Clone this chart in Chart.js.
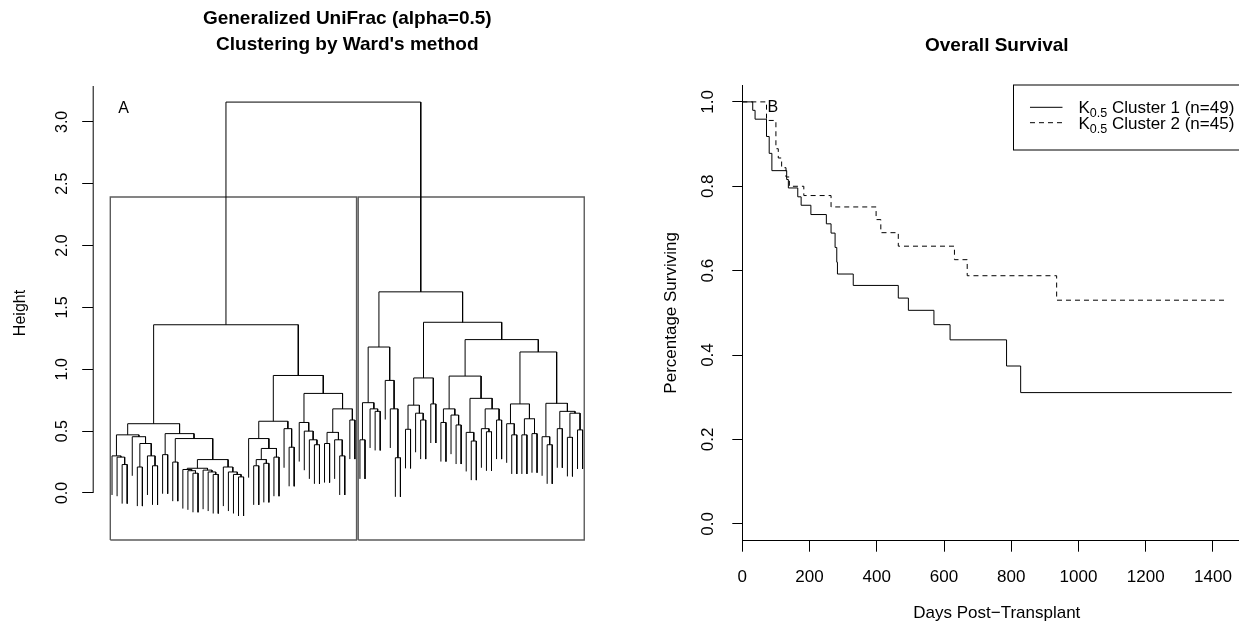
<!DOCTYPE html>
<html>
<head>
<meta charset="utf-8">
<title>UniFrac clusters and survival</title>
<script src="https://cdn.jsdelivr.net/npm/chart.js@4.4.1/dist/chart.umd.min.js"></script>
<style>
  html, body { margin: 0; padding: 0; background: #fff; overflow: hidden; }
  #wrap { position: relative; width: 1239px; height: 626px; overflow: hidden; }
  #dendro { position: absolute; left: 0; top: 0; }
  #survival { position: absolute; left: 620px; top: 0; }
</style>
</head>
<body>
<div id="wrap">
  <canvas id="dendro" width="620" height="626"></canvas>
  <canvas id="survival" width="660" height="626"></canvas>
</div>
<script>
// Ward clustering of generalized UniFrac distances (alpha = 0.5)
// a node is [mergeHeight, left, right]; 0 is a single sample
const cluster1A = [0.56,
  [0.47,
    [0.30, 0, [0.29, 0, [0.23, 0, 0]]],
    [0.455, 0, [0.40, [0.21, 0, 0], [0.30, 0, [0.22, 0, 0]]]]],
  [0.48,
    [0.31, 0, 0],
    [0.44,
      [0.25, 0, 0],
      [0.27,
        [0.20, [0.19, 0, [0.18, 0, [0.16, 0, 0]]], [0.185, 0, [0.17, 0, [0.15, 0, 0]]]],
        [0.21, 0, [0.17, 0, [0.15, 0, [0.13, 0, 0]]]]]]]];
const cluster1B = [0.95,
  [0.58,
    [0.44, 0, [0.36, [0.27, [0.22, 0, 0], [0.24, 0, 0]], [0.29, 0, 0]]],
    [0.52, 0, [0.37, 0, 0]]],
  [0.805,
    [0.57, 0, [0.50, 0, [0.43, 0, [0.39, 0, 0]]]],
    [0.68, [0.49, [0.40, 0, 0], [0.43, 0, [0.30, 0, 0]]], [0.59, 0, 0]]]];
const cluster2A = [1.18,
  [0.73, [0.43, 0, 0], [0.68, 0, [0.66, 0, 0]]],
  [0.91, 0, [0.68, 0, [0.285, 0, 0]]]];
const cluster2B = [1.38,
  [0.93, [0.71, [0.515, 0, 0], [0.645, 0, [0.59, 0, 0]]], [0.72, 0, 0]],
  [1.24,
    [0.945,
      [0.68, [0.57, 0, 0], [0.63, 0, [0.55, 0, 0]]],
      [0.765, [0.49, 0, [0.42, 0, 0]], [0.68, [0.52, 0, [0.495, 0, 0]], [0.59, 0, 0]]]],
    [1.14,
      [0.72, [0.56, 0, [0.47, 0, 0]], [0.60, [0.47, 0, 0], [0.48, 0, 0]]],
      [0.725, [0.455, 0, [0.39, 0, 0]], [0.66, [0.52, 0, 0], [0.645, [0.45, 0, 0], [0.51, 0, 0]]]]]]];
const cluster1Height = 1.36;
const cluster2Height = 1.626;
const rootHeight = 3.16;
const heightTicks = [0, 0.5, 1, 1.5, 2, 2.5, 3];

// Kaplan-Meier estimates by cluster
const cluster1Days = [0, 31, 38, 72, 80, 88, 132, 137, 165, 175, 204, 250, 264, 276, 281, 283, 330, 464, 494, 570, 618, 786, 828, 1456];
const cluster1Surv = [1, 0.980, 0.959, 0.918, 0.878, 0.837, 0.816, 0.796, 0.775, 0.755, 0.733, 0.711, 0.689, 0.655, 0.620, 0.592, 0.565, 0.535, 0.506, 0.472, 0.436, 0.374, 0.311, 0.311];
const cluster2Days = [0, 72, 100, 107, 117, 130, 140, 183, 264, 398, 412, 464, 631, 669, 935, 1433];
const cluster2Surv = [1, 0.956, 0.889, 0.867, 0.844, 0.822, 0.800, 0.778, 0.751, 0.721, 0.690, 0.658, 0.626, 0.588, 0.530, 0.530];
const dayTicks = [0, 200, 400, 600, 800, 1000, 1200, 1400];
const survTicks = [0, 0.2, 0.4, 0.6, 0.8, 1];
const legendLabels = ['Cluster 1 (n=49)', 'Cluster 2 (n=45)'];

const FONT = '"Liberation Sans", Arial, Helvetica, sans-serif';
Chart.defaults.font.family = FONT;
Chart.defaults.color = '#000';

// ---- dendrogram geometry (same rules as R's plot.hclust) ----
const cluster1 = [cluster1Height, cluster1A, cluster1B];
const cluster2 = [cluster2Height, cluster2A, cluster2B];
const tree = [rootHeight, cluster1, cluster2];

function countLeaves(node) {
  return node === 0 ? 1 : countLeaves(node[1]) + countLeaves(node[2]);
}
const nLeaves = countLeaves(tree);
const nCluster1 = countLeaves(cluster1);
const hang = 0.1 * rootHeight;
const dendroXMin = 1 - 0.04 * (nLeaves - 1);
const dendroXMax = nLeaves + 0.04 * (nLeaves - 1);
const dendroYMin = -0.38;
const dendroYMax = 3.29;

const treeSegments = [];
let leafPos = 0;
function walk(node) {
  if (node === 0) {
    leafPos += 1;
    return { x: leafPos, top: null };
  }
  const [h, a, b] = node;
  const l = walk(a);
  const r = walk(b);
  treeSegments.push(
    { x: l.x, y: l.top === null ? h - hang : l.top },
    { x: l.x, y: h },
    { x: r.x, y: h },
    { x: r.x, y: r.top === null ? h - hang : r.top },
    { x: null, y: null });
  return { x: (l.x + r.x) / 2, top: h };
}
walk(tree);

// boxes around the two clusters (k = 2 cut)
const cutTop = (rootHeight + Math.max(cluster1Height, cluster2Height)) / 2;
function box(x0, x1) {
  return [
    { x: x0, y: dendroYMin }, { x: x0, y: cutTop }, { x: x1, y: cutTop },
    { x: x1, y: dendroYMin }, { x: x0, y: dendroYMin }, { x: null, y: null }];
}
const boxSegments = box(0.66, nCluster1 + 0.33).concat(box(nCluster1 + 0.66, nLeaves + 0.33));
const heightAxisLine = [{ x: dendroXMin, y: 0 }, { x: dendroXMin, y: dendroYMax }];

// panel letter in the top-left corner of the plot area
const panelLetter = {
  id: 'panelLetter',
  afterDraw(chart, args, opts) {
    const { ctx, chartArea } = chart;
    ctx.save();
    ctx.font = `16px ${FONT}`;
    ctx.fillStyle = '#000';
    ctx.textAlign = 'center';
    ctx.textBaseline = 'middle';
    ctx.fillText(opts.text, chartArea.left + 30.5, chartArea.top + 22.5);
    ctx.restore();
  }
};

// boxed legend with a subscripted symbol, anchored top-right
const subscriptLegend = {
  id: 'subscriptLegend',
  afterDraw(chart, args, opts) {
    const { ctx, chartArea } = chart;
    const big = `17px ${FONT}`;
    const small = `12.5px ${FONT}`;
    ctx.save();
    ctx.font = big;
    const symW = ctx.measureText(opts.symbol).width;
    ctx.font = small;
    const subW = ctx.measureText(opts.sub).width;
    ctx.font = big;
    const textW = Math.max(...opts.labels.map(t => ctx.measureText(' ' + t).width)) + symW + subW;
    const width = 16.5 + 32.5 + 16 + textW + 17;
    const right = chartArea.right;
    const left = right - width;
    const top = chartArea.top;
    ctx.fillStyle = '#fff';
    ctx.fillRect(left, top, width, 65);
    ctx.strokeStyle = '#000';
    ctx.lineWidth = 1;
    ctx.strokeRect(left, top, width, 65);
    chart.data.datasets.forEach((ds, i) => {
      const y = top + 22.3 + i * 15.4;
      ctx.beginPath();
      ctx.setLineDash(ds.borderDash || []);
      ctx.moveTo(left + 16.5, y);
      ctx.lineTo(left + 49, y);
      ctx.stroke();
      ctx.setLineDash([]);
      let x = left + 65;
      ctx.fillStyle = '#000';
      ctx.textBaseline = 'alphabetic';
      ctx.textAlign = 'left';
      ctx.font = big;
      ctx.fillText(opts.symbol, x, y + 6);
      x += symW;
      ctx.font = small;
      ctx.fillText(opts.sub, x, y + 10);
      x += subW;
      ctx.font = big;
      ctx.fillText(' ' + opts.labels[i], x, y + 6);
    });
    ctx.restore();
  }
};

new Chart(document.getElementById('dendro'), {
  type: 'line',
  data: {
    datasets: [
      { data: treeSegments, borderColor: '#000', borderWidth: 1, pointRadius: 0, spanGaps: false },
      { data: boxSegments, borderColor: '#5c5c5c', borderWidth: 1.4, pointRadius: 0, clip: false },
      { data: heightAxisLine, borderColor: '#000', borderWidth: 1, pointRadius: 0, clip: false }
    ]
  },
  options: {
    responsive: false,
    animation: false,
    events: [],
    layout: { autoPadding: false, padding: { left: 0, right: 18.6, top: 0, bottom: 86 } },
    plugins: {
      legend: { display: false },
      tooltip: { enabled: false },
      title: {
        display: true,
        fullSize: false,
        text: ['Generalized UniFrac (alpha=0.5)', "Clustering by Ward's method"],
        font: { size: 19, weight: 'bold', lineHeight: '26px' },
        padding: { top: 6, bottom: 28 }
      },
      panelLetter: { text: 'A' }
    },
    scales: {
      x: { type: 'linear', display: false, min: dendroXMin, max: dendroXMax },
      y: {
        type: 'linear',
        min: dendroYMin,
        max: dendroYMax,
        afterFit: s => { s.width = 93.2; },
        afterBuildTicks: s => { s.ticks = heightTicks.map(v => ({ value: v })); },
        border: { display: false },
        grid: { drawOnChartArea: false, tickLength: 11, color: '#000', tickColor: '#000' },
        ticks: {
          minRotation: 90, maxRotation: 90, crossAlign: 'center', padding: 8.8,
          font: { size: 16 }, callback: v => v.toFixed(1)
        },
        title: { display: true, text: 'Height', font: { size: 16 }, padding: { top: 11, bottom: 0 } }
      }
    }
  },
  plugins: [panelLetter]
});

new Chart(document.getElementById('survival'), {
  type: 'line',
  data: {
    datasets: [
      {
        label: legendLabels[0],
        data: cluster1Days.map((d, i) => ({ x: d, y: cluster1Surv[i] })),
        stepped: 'before', borderColor: '#000', borderWidth: 1, pointRadius: 0
      },
      {
        label: legendLabels[1],
        data: cluster2Days.map((d, i) => ({ x: d, y: cluster2Surv[i] })),
        stepped: 'before', borderColor: '#000', borderWidth: 1, borderDash: [5, 4], pointRadius: 0
      }
    ]
  },
  options: {
    responsive: false,
    animation: false,
    events: [],
    layout: { autoPadding: false, padding: { left: 0, right: 28.7, top: 0, bottom: 0 } },
    plugins: {
      legend: { display: false },
      tooltip: { enabled: false },
      title: {
        display: true,
        fullSize: false,
        text: 'Overall Survival',
        font: { size: 19, weight: 'bold', lineHeight: '26px' },
        padding: { top: 33, bottom: 26 }
      },
      panelLetter: { text: 'B' },
      subscriptLegend: { symbol: 'K', sub: '0.5', labels: legendLabels }
    },
    scales: {
      x: {
        type: 'linear',
        min: 0,
        max: 1514,
        afterFit: s => { s.height = 85.3; },
        afterBuildTicks: s => { s.ticks = dayTicks.map(v => ({ value: v })); },
        border: { display: true, color: '#000', width: 1 },
        grid: { drawOnChartArea: false, tickLength: 11, color: '#000', tickColor: '#000' },
        ticks: { maxRotation: 0, autoSkip: false, padding: 15, font: { size: 17 }, callback: v => String(v) },
        title: { display: true, text: 'Days Post\u2212Transplant', font: { size: 17 }, padding: { top: 0, bottom: 2.8 } }
      },
      y: {
        type: 'linear',
        min: -0.04,
        max: 1.04,
        afterFit: s => { s.width = 122.3; },
        afterBuildTicks: s => { s.ticks = survTicks.map(v => ({ value: v })); },
        border: { display: true, color: '#000', width: 1 },
        grid: { drawOnChartArea: false, tickLength: 10, color: '#000', tickColor: '#000' },
        ticks: {
          minRotation: 90, maxRotation: 90, crossAlign: 'center', padding: 12.5,
          font: { size: 17 }, callback: v => v.toFixed(1)
        },
        title: { display: true, text: 'Percentage Surviving', font: { size: 17 }, padding: { top: 41.5, bottom: 0 } }
      }
    }
  },
  plugins: [panelLetter, subscriptLegend]
});
</script>
</body>
</html>
